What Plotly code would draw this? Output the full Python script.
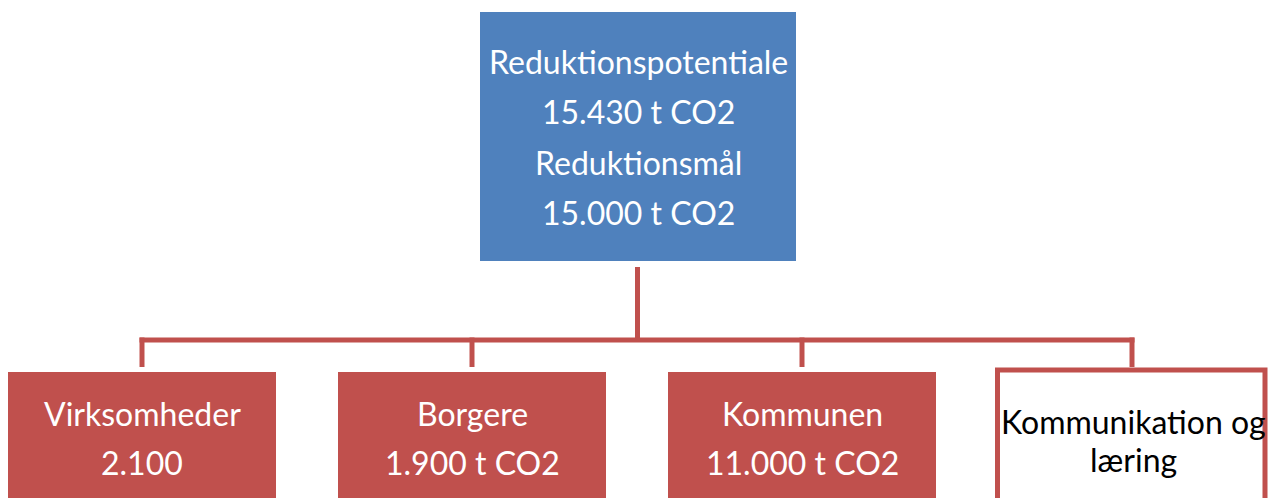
import plotly.graph_objects as go

# ---- data ----
top_lines = ["Reduktionspotentiale", "15.430 t CO2", "Reduktionsmål", "15.000 t CO2"]
child_titles = ["Virksomheder", "Borgere", "Kommunen", "Kommunikation og"]
child_values = ["2.100", "1.900 t CO2", "11.000 t CO2", "læring"]
child_filled = [True, True, True, False]

# ---- styling / layout ----
W, H = 1270, 498
BLUE = "#4F81BD"
RED = "#C0504D"
FONT = "Lato"

top_x0, top_x1, top_y0, top_y1 = 480, 796, 12, 261
top_text_y = [61, 111, 162, 212]
child_x0 = 8
child_w = 268
child_step = 330
child_y0 = 372
bus_y = 340
line_w = 5

shapes = []
annotations = []

# top box
shapes.append(dict(type="rect", x0=top_x0, x1=top_x1, y0=top_y0, y1=top_y1,
                   fillcolor=BLUE, line=dict(width=0), layer="above"))
top_cx = (top_x0 + top_x1) / 2
for txt, ty in zip(top_lines, top_text_y):
    annotations.append(dict(x=top_cx, y=ty, text=txt, showarrow=False,
                            xanchor="center", yanchor="middle",
                            font=dict(family=FONT, size=32, color="white")))

# connectors
centers = [child_x0 + i * child_step + child_w / 2 for i in range(len(child_titles))]
shapes.append(dict(type="line", x0=637.5, x1=637.5, y0=267, y1=bus_y,
                   line=dict(color=RED, width=line_w)))
shapes.append(dict(type="line", x0=centers[0] - 2.5, x1=centers[-1] + 2.5, y0=bus_y, y1=bus_y,
                   line=dict(color=RED, width=line_w)))
for cx in centers:
    shapes.append(dict(type="line", x0=cx, x1=cx, y0=bus_y - 2.5, y1=367,
                       line=dict(color=RED, width=line_w)))

# child boxes
for i, (t, v, filled) in enumerate(zip(child_titles, child_values, child_filled)):
    x0 = child_x0 + i * child_step
    x1 = x0 + child_w
    if filled:
        shapes.append(dict(type="rect", x0=x0, x1=x1, y0=child_y0, y1=H + 20,
                           fillcolor=RED, line=dict(width=0)))
        col = "white"
        ys = [413, 462]
    else:
        shapes.append(dict(type="rect", x0=x0 - 0.5, x1=x1 - 1, y0=child_y0 - 2, y1=H + 20,
                           fillcolor="white", line=dict(color=RED, width=line_w)))
        col = "black"
        ys = [421, 459]
    cx = (x0 + x1) / 2 + (1 if not filled else 0)
    for txt, ty in zip([t, v], ys):
        annotations.append(dict(x=cx, y=ty, text=txt, showarrow=False,
                                xanchor="center", yanchor="middle",
                                font=dict(family=FONT, size=32, color=col)))

fig = go.Figure()
fig.update_layout(
    width=W, height=H,
    margin=dict(l=0, r=0, t=0, b=0),
    paper_bgcolor="white", plot_bgcolor="white",
    xaxis=dict(range=[0, W], visible=False, fixedrange=True),
    yaxis=dict(range=[H, 0], visible=False, fixedrange=True),
    shapes=shapes, annotations=annotations, showlegend=False,
)
fig.write_html("out.html", config=dict(displayModeBar=False),
               post_script="document.body.style.margin='0';document.body.style.overflow='hidden';")
